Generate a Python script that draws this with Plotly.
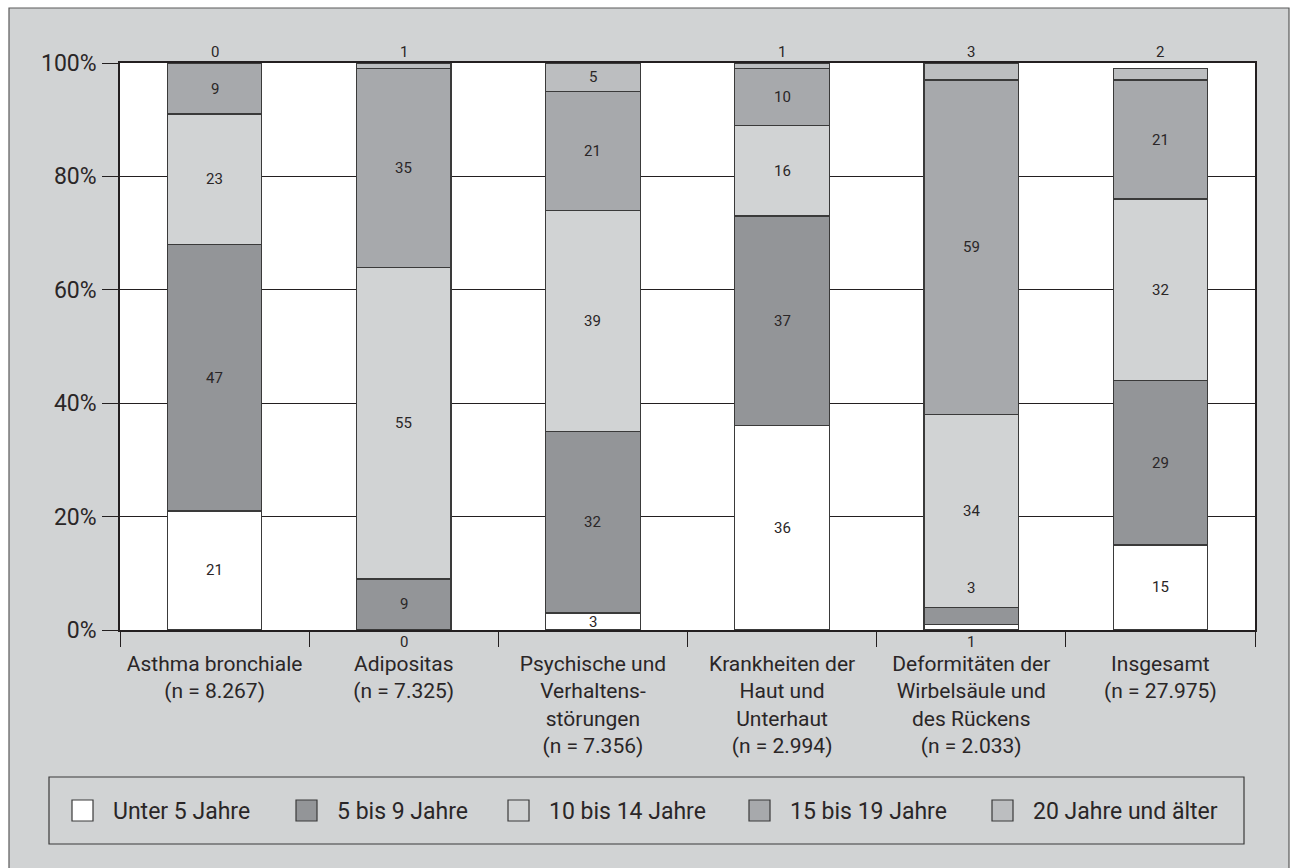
import plotly.graph_objects as go

# ---------------- data ----------------
categories = [
    "Asthma bronchiale<br>(n = 8.267)",
    "Adipositas<br>(n = 7.325)",
    "Psychische und<br>Verhaltens-<br>störungen<br>(n = 7.356)",
    "Krankheiten der<br>Haut und<br>Unterhaut<br>(n = 2.994)",
    "Deformitäten der<br>Wirbelsäule und<br>des Rückens<br>(n = 2.033)",
    "Insgesamt<br>(n = 27.975)",
]
series_names = ["Unter 5 Jahre", "5 bis 9 Jahre", "10 bis 14 Jahre",
                "15 bis 19 Jahre", "20 Jahre und älter"]
unter5 = [21, 0, 3, 36, 1, 15]
j5_9 = [47, 9, 32, 37, 3, 29]
j10_14 = [23, 55, 39, 16, 34, 32]
j15_19 = [9, 35, 21, 10, 59, 21]
j20plus = [0, 1, 5, 1, 3, 2]
series_values = [unter5, j5_9, j10_14, j15_19, j20plus]
y_ticks = [0, 20, 40, 60, 80, 100]
y_ticklabels = ["0%", "20%", "40%", "60%", "80%", "100%"]

# ---------------- styles ----------------
colors = ["#ffffff", "#939598", "#d1d3d4", "#a7a9ac", "#bcbec0"]
FONT = "Roboto"
TXT = "#2a2627"
PANEL = "#d1d3d4"
W, H = 1290, 868
ML, MR, MT, MB = 120, 35, 63, 238
PW, PH = W - ML - MR, H - MT - MB


def px_x(px):
    return (px - ML) / PW


def px_y(py):
    return (H - MB - py) / PH


fig = go.Figure()
for name, vals, col in zip(series_names, series_values, colors):
    fig.add_trace(go.Bar(
        x=categories, y=vals, name=name, width=0.5,
        marker=dict(color=col, line=dict(color="#3a3a3a", width=1.2)),
        showlegend=False, hoverinfo="skip",
    ))

# value labels
annotations = []
n_series = len(series_values)
for i, cat in enumerate(categories):
    base = 0
    for j in range(n_series):
        v = series_values[j][i]
        if j == n_series - 1 and v <= 3:
            y, anchor, shift = 100, "bottom", 0
        elif j == 0 and v <= 1:
            y, anchor, shift = 0, "top", -1
        elif 0 < j < n_series - 1 and v <= 3:
            y, anchor, shift = base + v, "bottom", 8
        else:
            y, anchor, shift = base + v / 2, "middle", 0
        annotations.append(dict(
            x=cat, y=y, xref="x", yref="y", text=str(v), showarrow=False,
            yanchor=anchor, yshift=shift,
            font=dict(family=FONT, size=15, color=TXT),
        ))
        base += v

shapes = []
# outer grey panel
shapes.append(dict(type="rect", xref="paper", yref="paper",
                   x0=px_x(9), x1=px_x(1289), y0=px_y(880), y1=px_y(8),
                   fillcolor=PANEL, line=dict(color="#5a5a5a", width=1.2),
                   layer="below"))
# white plotting area
shapes.append(dict(type="rect", xref="paper", yref="paper",
                   x0=0, x1=1, y0=0, y1=1,
                   fillcolor="white", line=dict(width=0), layer="below"))
# legend box
shapes.append(dict(type="rect", xref="paper", yref="paper",
                   x0=px_x(49), x1=px_x(1244), y0=px_y(844), y1=px_y(777),
                   fillcolor=PANEL, line=dict(color="#3a3a3a", width=1.2),
                   layer="below"))
legend_sq_x = [72, 296, 508, 749, 992]
for name, col, sx in zip(series_names, colors, legend_sq_x):
    shapes.append(dict(type="rect", xref="paper", yref="paper",
                       x0=px_x(sx), x1=px_x(sx + 21), y0=px_y(821), y1=px_y(800),
                       fillcolor=col, line=dict(color="#3a3a3a", width=1.2)))
    annotations.append(dict(
        x=px_x(sx + 39), y=px_y(811), xref="paper", yref="paper",
        xanchor="left", yanchor="middle", text=name, showarrow=False,
        font=dict(family=FONT, size=23, color=TXT),
    ))

fig.update_layout(
    width=W, height=H,
    margin=dict(l=ML, r=MR, t=MT, b=MB, pad=0),
    barmode="stack",
    paper_bgcolor="white",
    plot_bgcolor="white",
    showlegend=False,
    hovermode=False,
    annotations=annotations,
    shapes=shapes,
    font=dict(family=FONT, color=TXT),
)
fig.update_xaxes(
    type="category", tickson="boundaries", ticks="outside", ticklen=15,
    tickwidth=1.2, tickcolor="#231f20",
    showline=True, linecolor="#231f20", linewidth=1.5, mirror=True,
    showgrid=False, ticklabelstandoff=14,
    tickfont=dict(family=FONT, size=21, color=TXT),
)
fig.update_yaxes(
    range=[0, 100], tickvals=y_ticks, ticktext=y_ticklabels,
    ticks="outside", ticklen=16, tickwidth=1.2, tickcolor="#231f20",
    showline=True, linecolor="#231f20", linewidth=1.5, mirror=True,
    showgrid=True, gridcolor="#231f20", gridwidth=1.2, zeroline=False,
    ticklabelstandoff=1,
    tickfont=dict(family=FONT, size=23, color=TXT),
)

fig.write_html("out.html")
